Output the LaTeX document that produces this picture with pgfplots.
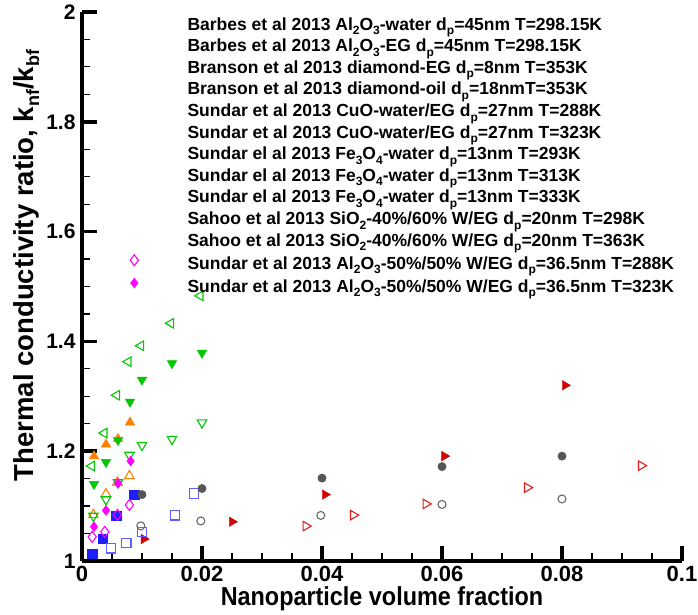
\documentclass[border=0pt]{standalone}
\usepackage{fontspec}
\setmainfont{Liberation Sans}
\newfontfamily\narrowfont{Liberation Sans}[FakeStretch=0.9]
\usepackage{pgfplots}
\pgfplotsset{compat=1.18}

\definecolor{cRedF}{RGB}{210,0,0}
\definecolor{cRedO}{RGB}{225,30,30}
\definecolor{cBlueF}{RGB}{30,30,255}
\definecolor{cBlueO}{RGB}{95,95,255}
\definecolor{cOrange}{RGB}{255,128,0}
\definecolor{cGreen}{RGB}{0,200,0}
\definecolor{cGreyF}{RGB}{85,85,85}
\definecolor{cGreyO}{RGB}{105,105,105}
\definecolor{cMag}{RGB}{255,0,255}

\newcommand\sub[1]{\raisebox{-4.5pt}{\fontsize{12}{12}\selectfont #1}}
\newcommand\ysub[1]{\raisebox{-5.5pt}{\fontsize{18}{18}\selectfont #1}}

\pgfplotsset{
  markleg/.style={legend image code/.code={\path (-6pt,0pt) (50pt,0pt); \draw[##1] plot coordinates {(-3pt,7pt)};}},
}

\begin{document}
\begin{tikzpicture}
\path[use as bounding box] (-82pt,-54pt) rectangle (616pt,561pt);
\begin{axis}[
  at={(0,0)}, anchor=south west,
  scale only axis, width=600pt, height=549pt,
  xmin=0, xmax=0.1, ymin=1, ymax=2,
  axis lines*=left,
  axis line style={line width=3.5pt},
  xtick={0,0.02,...,0.1}, ytick={1,1.2,...,2},
  minor x tick num=3, minor y tick num=3,
  tick align=inside,
  major tick length=15pt, minor tick length=8pt,
  major tick style={line width=3.5pt, black},
  minor tick style={line width=1.2pt, black},
  /pgf/number format/assume math mode=true,
  /pgf/number format/fixed,
  /pgf/number format/precision=2,
  xticklabel style={font=\bfseries\fontsize{22}{22}\selectfont, yshift=-2pt},
  yticklabel style={font=\bfseries\fontsize{21}{21}\selectfont, xshift=-3pt},
  xlabel={Nanoparticle volume fraction},
  ylabel={Thermal conductivity ratio, k\ysub{nf}/k\ysub{bf}},
  xlabel style={font=\narrowfont\bfseries\fontsize{26}{26}\selectfont, yshift=2pt},
  ylabel style={font=\bfseries\fontsize{27.5}{27.5}\selectfont, yshift=0pt, xshift=21pt},
  clip=false,
  legend cell align=left,
  legend style={draw=none, fill=none, at={(45pt,546pt)}, anchor=north west,
    font=\bfseries\fontsize{17.5}{17.5}\selectfont, column sep=0pt, row sep=0pt,
    nodes={inner sep=0pt, text height=13pt, text depth=8.6pt}},
  legend image code/.code={\path (-6pt,0pt) (50pt,0pt);},
]
\addplot[only marks, mark=triangle, mark size=5.5pt, cRedO, mark options={rotate=-90, line width=1.1pt}] coordinates {
(0.0373,1.0636) (0.0452,1.0836) (0.0573,1.1040) (0.0742,1.1336) (0.0932,1.1736)};
\addlegendentry{Barbes et al 2013 Al\sub2O\sub3-water d\sub p=45nm T=298.15K}
\addplot[only marks, mark=triangle*, mark size=5.5pt, cRedF, mark options={rotate=-90, fill=cRedF}] coordinates {
(0.0103,1.040) (0.025,1.0715) (0.0405,1.121) (0.0604,1.191) (0.0805,1.320)};
\addlegendentry{Barbes et al 2013 Al\sub2O\sub3-EG d\sub p=45nm T=298.15K}
\addplot[only marks, mark=square*, mark size=4.6pt, cBlueF, mark options={fill=cBlueF}] coordinates {
(0.0017,1.013) (0.0034,1.040) (0.0057,1.082) (0.0087,1.121)};
\addlegendentry{Branson et al 2013 diamond-EG d\sub p=8nm T=353K}
\addplot[only marks, mark=square, mark size=4.6pt, cBlueO, mark options={line width=1.1pt}] coordinates {
(0.0048,1.023) (0.0074,1.033) (0.0100,1.053) (0.0155,1.083) (0.0187,1.123)};
\addlegendentry{Branson et al 2013 diamond-oil d\sub p=18nmT=353K}
\addplot[only marks, mark=triangle, mark size=5.5pt, cOrange, mark options={line width=1.1pt}] coordinates {
(0.0019,1.084) (0.0040,1.122) (0.0059,1.143) (0.0079,1.155)};
\addlegendentry{Sundar et al 2013 CuO-water/EG d\sub p=27nm T=288K}
\addplot[only marks, mark=triangle*, mark size=5.5pt, cOrange, mark options={fill=cOrange}] coordinates {
(0.0020,1.191) (0.0040,1.2125) (0.0060,1.2225) (0.0080,1.2526)};
\addlegendentry{Sundar et al 2013 CuO-water/EG d\sub p=27nm T=323K}
\addplot[only marks, mark=triangle, mark size=5.5pt, cGreen, mark options={rotate=180, line width=1.1pt}] coordinates {
(0.0019,1.082) (0.0040,1.112) (0.0060,1.143) (0.0079,1.193) (0.0100,1.211) (0.0150,1.222) (0.0200,1.252)};
\addlegendentry{Sundar el al 2013 Fe\sub3O\sub4-water d\sub p=13nm T=293K}
\addplot[only marks, mark=triangle*, mark size=5.5pt, cGreen, mark options={rotate=180, fill=cGreen}] coordinates {
(0.0020,1.140) (0.0040,1.180) (0.0060,1.220) (0.0080,1.290) (0.0100,1.330) (0.0150,1.360) (0.0200,1.379)};
\addlegendentry{Sundar el al 2013 Fe\sub3O\sub4-water d\sub p=13nm T=313K}
\addplot[only marks, mark=triangle, mark size=5.5pt, cGreen, mark options={rotate=90, line width=1.1pt}] coordinates {
(0.0016,1.173) (0.0037,1.233) (0.0058,1.302) (0.0077,1.363) (0.0098,1.392) (0.0148,1.433) (0.0197,1.483)};
\addlegendentry{Sundar el al 2013 Fe\sub3O\sub4-water d\sub p=13nm T=333K}
\addplot[only marks, mark=o, mark size=4pt, cGreyO, mark options={line width=1.1pt}] coordinates {
(0.0098,1.064) (0.0198,1.073) (0.0398,1.083) (0.0600,1.103) (0.0800,1.113)};
\addlegendentry{Sahoo et al 2013 SiO\sub2-40\%/60\% W/EG d\sub p=20nm T=298K}
\addplot[only marks, mark=*, mark size=4.2pt, cGreyF, mark options={fill=cGreyF}] coordinates {
(0.0100,1.121) (0.0200,1.132) (0.0400,1.151) (0.0600,1.172) (0.0800,1.191)};
\addlegendentry{Sahoo et al 2013 SiO\sub2-40\%/60\% W/EG d\sub p=20nm T=363K}
\addplot[only marks, mark=diamond, mark size=5.5pt, cMag, mark options={line width=1.1pt}, markleg] coordinates {
(0.0017,1.044) (0.0038,1.053) (0.0059,1.084) (0.0079,1.102)};
\addlegendentry{Sundar et al 2013 Al\sub2O\sub3-50\%/50\% W/EG d\sub p=36.5nm T=288K}
\addplot[only marks, mark=diamond*, mark size=5pt, cMag, mark options={fill=cMag}, markleg] coordinates {
(0.0020,1.0625) (0.0040,1.092) (0.0060,1.1415) (0.0081,1.182)};
\addlegendentry{Sundar et al 2013 Al\sub2O\sub3-50\%/50\% W/EG d\sub p=36.5nm T=323K}
\end{axis}
\end{tikzpicture}
\end{document}
